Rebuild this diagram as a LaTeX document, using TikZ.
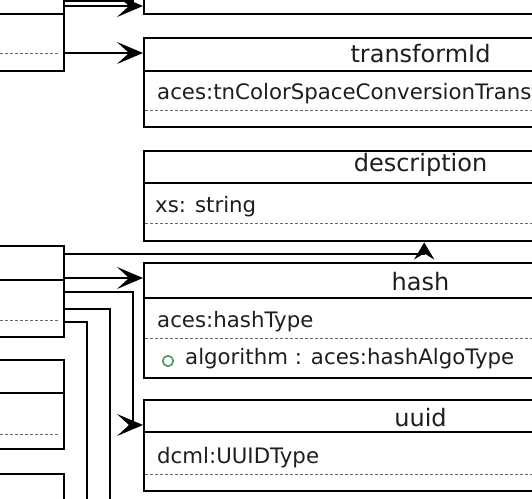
\documentclass[tikz,border=0pt]{standalone}
\usepackage{fontspec}
\setmainfont{DejaVu Sans}
\usetikzlibrary{arrows.meta}
\definecolor{attr}{RGB}{60,150,90}
\definecolor{ink}{RGB}{30,30,30}
\definecolor{dashgray}{RGB}{105,105,105}
\begin{document}
\begin{tikzpicture}[x=1pt,y=-1pt,
  box/.style={draw=black, line width=2.4pt, fill=white, inner sep=0pt, anchor=north west},
  sepline/.style={draw=black, line width=2.4pt},
  dsh/.style={draw=dashgray, line width=1pt, dash pattern=on 3pt off 2pt},
  conn/.style={draw=black, line width=2pt},
  arr/.style={conn, -{Stealth[length=26pt,width=22pt,inset=12pt]}},
  arrup/.style={conn, -{Stealth[length=17pt,width=20pt,inset=6pt]}},
  ttl/.style={font=\fontsize{24}{24}\selectfont, text=ink, anchor=base, inner sep=0pt},
  txt/.style={font=\fontsize{21.3}{21.3}\selectfont, text=ink, anchor=base west, inner sep=0pt},
  attrdot/.style={circle, draw=attr, line width=1.5pt, minimum size=10.5pt, inner sep=0pt}
]
\useasboundingbox (0,0) rectangle (532,498);
\clip (0,0) rectangle (532,498);
\fill[white] (0,0) rectangle (532,498);

% ---------- left boxes ----------
\node[box, minimum width=90pt, minimum height=110pt] (A) at (-27,-40) {};
\draw[sepline] (-27,14) -- (63,14);
\draw[dsh] (0,53) -- (58,53);

\node[box, minimum width=90pt, minimum height=91pt] (B) at (-27,245) {};
\draw[sepline] (-27,280) -- (63,280);
\draw[dsh] (0,320) -- (58,320);

\node[box, minimum width=90pt, minimum height=89pt] (C) at (-27,359) {};
\draw[sepline] (-27,393) -- (63,393);
\draw[dsh] (0,434) -- (58,434);

\node[box, minimum width=90pt, minimum height=80pt] (D) at (-27,473) {};

% ---------- right boxes ----------
\node[box, minimum width=555pt, minimum height=53pt] (top) at (143,-40) {};

\node[box, minimum width=555pt, minimum height=89pt] (tid) at (143,37) {};
\draw[sepline] (143,71) -- (698,71);
\draw[dsh] (145,110) -- (698,110);
\node[ttl] (tidT) at (420.5,62) {transformId};
\node[txt] (tidX) at (157,99) {aces:tnColorSpaceConversionTransformIdType};

\node[box, minimum width=555pt, minimum height=90pt] (desc) at (143,150) {};
\draw[sepline] (143,183) -- (698,183);
\draw[dsh] (145,223) -- (698,223);
\node[ttl] (descT) at (420.5,171) {description};
\node[txt] (descX) at (155,212) {xs: string};

\node[box, minimum width=555pt, minimum height=115pt] (hash) at (143,262) {};
\draw[sepline] (143,298) -- (698,298);
\draw[dsh] (145,338) -- (698,338);
\node[ttl] (hashT) at (420.5,290) {hash};
\node[txt] (hashX) at (157,327) {aces:hashType};
\node[attrdot] (algoDot) at (168,361) {};
\node[txt] (algoX) at (185,364) {algorithm : aces:hashAlgoType};

\node[box, minimum width=555pt, minimum height=91pt] (uuid) at (143,399) {};
\draw[sepline] (143,432) -- (698,432);
\draw[dsh] (145,474) -- (698,474);
\node[ttl] (uuidT) at (420.5,426) {uuid};
\node[txt] (uuidX) at (157,463) {dcml:UUIDType};

% ---------- connectors ----------
\draw[conn] (A.east |- 0,1) -- (133,1) -- (133,-10);
\draw[arr] (A.east |- 0,6) -- (top.west |- 0,6);
\draw[arr] (A.east |- 0,53) -- (tid.west |- 0,53);

\draw[arrup] (B.east |- 0,254) -| ([xshift=2.5pt]desc.south);
\draw[arr] (B.east |- 0,278) -- (hash.west |- 0,278);
\draw[arr] (B.east |- 0,292) -| (133,425) -- (uuid.west |- 0,425);
\draw[conn] (B.east |- 0,309) -| (110,520);
\draw[conn] (B.east |- 0,322) -| (87,520);
\end{tikzpicture}
\end{document}
